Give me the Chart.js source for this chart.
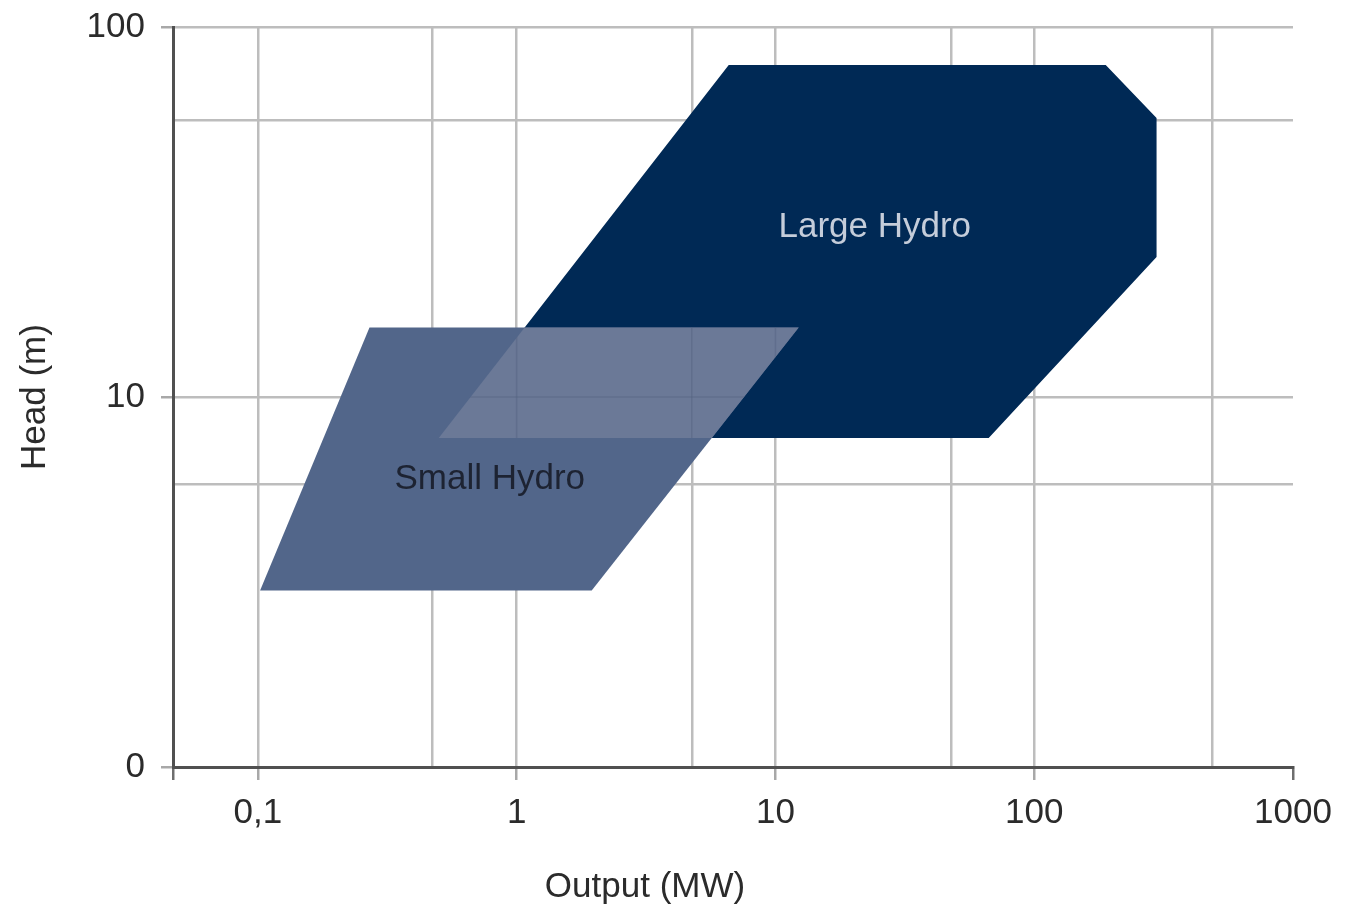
<!DOCTYPE html>
<html>
<head>
<meta charset="utf-8">
<script src="https://cdn.jsdelivr.net/npm/chart.js@4.4.1/dist/chart.umd.min.js"></script>
<style>
  html, body { margin: 0; padding: 0; background: #fff; }
</style>
</head>
<body>
<canvas id="chart" width="1345" height="911"></canvas>
<script>
// axis grid values and the labels shown under/beside them
const xGrid = [0.047, 0.1, 0.47, 1, 4.75, 10, 48, 100, 487, 1000];
const xLabels = ['', '0,1', '', '1', '', '10', '', '100', '', '1000'];
const yGrid = [1, 5.8, 10, 56, 100];
const yLabels = ['0', '', '10', '', '100'];

// operating envelopes, output (MW) vs head (m)
const largeX = [0.5, 6.6, 189, 297, 297, 66.7, 0.5];
const largeY = [7.75, 79, 79, 56.8, 23.9, 7.75, 7.75];
const smallX = [0.102, 0.27, 12.3, 1.95, 0.102];
const smallY = [3.0, 15.4, 15.4, 3.0, 3.0];

const areaNames = ['Large Hydro', 'Small Hydro'];
const nameX = [24.2, 0.787];
const nameY = [28.8, 6.0];

const NAVY = '#002955';
const SMALL = '#52668a';
const OVERLAP = '#6b7997';
const GRID = '#bdbdbd';
const TEXT = '#2b2b2b';
const FONT = '"Liberation Sans", Arial, sans-serif';

const toPoints = (xs, ys) => xs.map((x, i) => ({ x, y: ys[i] }));

function tracePath(ctx, chart, xs, ys) {
  const sx = chart.scales.x, sy = chart.scales.y;
  ctx.beginPath();
  xs.forEach((x, i) => {
    const px = sx.getPixelForValue(x), py = sy.getPixelForValue(ys[i]);
    if (i === 0) ctx.moveTo(px, py); else ctx.lineTo(px, py);
  });
  ctx.closePath();
}

// where the two envelopes overlap the small one shows lighter
const overlapPlugin = {
  id: 'overlap',
  afterDatasetsDraw(chart) {
    const ctx = chart.ctx, a = chart.chartArea;
    const sx = chart.scales.x, sy = chart.scales.y;
    ctx.save();
    ctx.beginPath();
    ctx.rect(a.left, a.top, a.right - a.left, a.bottom - a.top);
    ctx.clip();
    tracePath(ctx, chart, largeX, largeY);
    ctx.clip();
    tracePath(ctx, chart, smallX, smallY);
    ctx.fillStyle = OVERLAP;
    ctx.fill();
    ctx.clip();
    ctx.strokeStyle = 'rgba(85,97,128,0.45)';
    ctx.lineWidth = 1.5;
    xGrid.slice(1, -1).forEach(v => {
      const px = sx.getPixelForValue(v);
      ctx.beginPath(); ctx.moveTo(px, a.top); ctx.lineTo(px, a.bottom); ctx.stroke();
    });
    yGrid.slice(1).forEach(v => {
      const py = sy.getPixelForValue(v);
      ctx.beginPath(); ctx.moveTo(a.left, py); ctx.lineTo(a.right, py); ctx.stroke();
    });
    ctx.restore();

    ctx.save();
    ctx.font = '35px ' + FONT;
    ctx.textAlign = 'center';
    ctx.textBaseline = 'middle';
    // area names
    areaNames.forEach((name, i) => {
      ctx.fillStyle = i === 0 ? '#c5cdda' : '#1d2332';
      ctx.fillText(name, sx.getPixelForValue(nameX[i]), sy.getPixelForValue(nameY[i]));
    });
    // x axis title sits a little left of centre
    ctx.fillStyle = TEXT;
    ctx.fillText('Output (MW)', 645, 887);
    ctx.restore();
  }
};

new Chart(document.getElementById('chart'), {
  type: 'line',
  data: {
    datasets: [
      {
        label: 'Small Hydro',
        data: toPoints(smallX, smallY),
        backgroundColor: SMALL,
        borderColor: 'rgba(0,0,0,0)',
        borderWidth: 0,
        pointRadius: 0,
        tension: 0,
        fill: 'shape'
      },
      {
        label: 'Large Hydro',
        data: toPoints(largeX, largeY),
        backgroundColor: NAVY,
        borderColor: 'rgba(0,0,0,0)',
        borderWidth: 0,
        pointRadius: 0,
        tension: 0,
        fill: 'shape'
      }
    ]
  },
  options: {
    responsive: false,
    animation: false,
    devicePixelRatio: 1,
    layout: { padding: { top: 27, right: 52, left: 0, bottom: 0 } },
    plugins: { legend: { display: false }, tooltip: { enabled: false } },
    scales: {
      x: {
        type: 'logarithmic',
        min: 0.047,
        max: 1000,
        afterBuildTicks: s => { s.ticks = xGrid.map(v => ({ value: v })); },
        afterFit: s => { s.height = 144; s.paddingLeft = 0; s.paddingRight = 0; },
        ticks: {
          autoSkip: false,
          maxRotation: 0,
          padding: 12,
          color: TEXT,
          font: { family: FONT, size: 35 },
          callback: (v, i) => xLabels[i]
        },
        grid: {
          color: c => (c.index === 0 || c.index === xGrid.length - 1) ? 'rgba(0,0,0,0)' : GRID,
          lineWidth: 2.5,
          tickLength: 13,
          tickWidth: 2.5,
          tickColor: c => {
            if (c.index === 0 || c.index === xGrid.length - 1) return '#6e6e6e';
            return xLabels[c.index] ? '#a8a8a8' : 'rgba(0,0,0,0)';
          }
        },
        border: { color: '#505050', width: 3 }
      },
      y: {
        type: 'logarithmic',
        min: 1,
        max: 100,
        afterBuildTicks: s => { s.ticks = yGrid.map(v => ({ value: v })); },
        afterFit: s => { s.width = 173; s.paddingTop = 0; s.paddingBottom = 0; },
        ticks: {
          autoSkip: false,
          padding: 16,
          color: TEXT,
          font: { family: FONT, size: 35 },
          callback: (v, i) => yLabels[i]
        },
        grid: {
          color: c => c.index === 0 ? 'rgba(0,0,0,0)' : GRID,
          lineWidth: 2.5,
          tickLength: 12,
          tickWidth: 2.5,
          tickColor: c => yLabels[c.index] ? '#a8a8a8' : 'rgba(0,0,0,0)'
        },
        border: { color: '#505050', width: 3 },
        title: {
          display: true,
          text: 'Head (m)',
          color: TEXT,
          font: { family: FONT, size: 35 },
          padding: 14
        }
      }
    }
  },
  plugins: [overlapPlugin]
});
</script>
</body>
</html>
